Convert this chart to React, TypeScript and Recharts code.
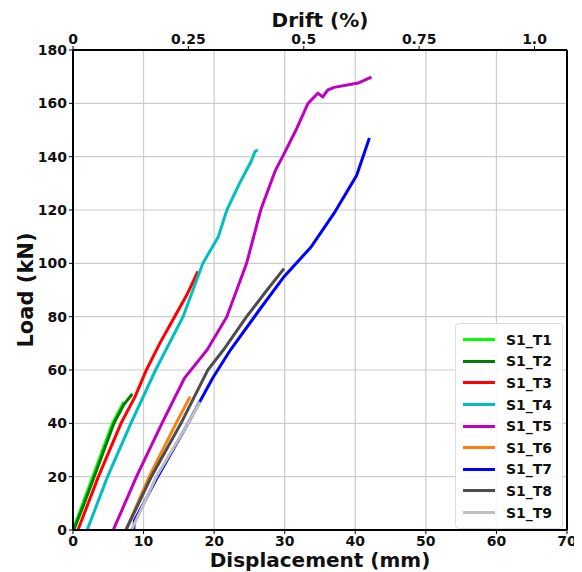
import React from 'react'
import {
  LineChart, Line, XAxis, YAxis, CartesianGrid,
} from 'recharts'

// load-displacement curves, d = displacement (mm), p = load (kN)
const S1_T1 = [
  { d: 0, p: 0 }, { d: 1.4, p: 10 }, { d: 2.8, p: 20 }, { d: 4.2, p: 30 },
  { d: 5.6, p: 40 }, { d: 7.2, p: 48 },
]
const S1_T2 = [
  { d: 0.1, p: 0 }, { d: 1.6, p: 10 }, { d: 3.0, p: 20 }, { d: 4.4, p: 30 },
  { d: 5.8, p: 40 }, { d: 7.2, p: 47 }, { d: 8.4, p: 51 },
]
const S1_T3 = [
  { d: 0.7, p: 0 }, { d: 3.6, p: 20 }, { d: 6.8, p: 40 }, { d: 8.8, p: 50 },
  { d: 10.4, p: 60 }, { d: 12.3, p: 70 }, { d: 14.4, p: 80 }, { d: 16.1, p: 88 },
  { d: 17.0, p: 93 }, { d: 17.7, p: 97 },
]
const S1_T4 = [
  { d: 2.0, p: 0 }, { d: 4.9, p: 20 }, { d: 8.2, p: 40 }, { d: 11.7, p: 60 },
  { d: 15.6, p: 80 }, { d: 18.4, p: 100 }, { d: 20.6, p: 110 }, { d: 21.8, p: 120 },
  { d: 23.6, p: 130 }, { d: 25.2, p: 138 }, { d: 25.8, p: 142 }, { d: 26.2, p: 142.5 },
]
const S1_T5 = [
  { d: 5.7, p: 0 }, { d: 9.0, p: 20 }, { d: 12.6, p: 40 }, { d: 15.8, p: 57 },
  { d: 19.0, p: 67.5 }, { d: 21.8, p: 80 }, { d: 24.6, p: 100 }, { d: 26.6, p: 120 },
  { d: 28.0, p: 130 }, { d: 28.7, p: 135 }, { d: 29.7, p: 140 }, { d: 31.6, p: 150 },
  { d: 33.3, p: 160 }, { d: 34.7, p: 163.8 }, { d: 35.4, p: 162.4 }, { d: 36.1, p: 165 },
  { d: 37.0, p: 166 }, { d: 40.4, p: 167.6 }, { d: 42.3, p: 169.8 },
]
const S1_T6 = [
  { d: 7.5, p: 0 }, { d: 10.8, p: 20 }, { d: 14.6, p: 40 }, { d: 16.6, p: 50 },
]
const S1_T7 = [
  { d: 8.6, p: 0 }, { d: 8.7, p: 3.5 }, { d: 12.0, p: 20 }, { d: 16.3, p: 40 },
  { d: 19.8, p: 57 }, { d: 22.3, p: 67.5 }, { d: 26.4, p: 82.5 }, { d: 29.9, p: 95 },
  { d: 33.7, p: 106 }, { d: 37.0, p: 118.8 }, { d: 40.2, p: 133 }, { d: 42.0, p: 147 },
]
const S1_T8 = [
  { d: 7.5, p: 0 }, { d: 11.1, p: 20 }, { d: 15.3, p: 40 }, { d: 19.1, p: 60 },
  { d: 21.3, p: 67.5 }, { d: 24.6, p: 80 }, { d: 27.5, p: 90 }, { d: 29.9, p: 98 },
]
const S1_T9 = [
  { d: 8.3, p: 0 }, { d: 11.8, p: 20 }, { d: 16.3, p: 40 }, { d: 18.0, p: 48 },
]

const SERIES = [
  { name: 'S1_T1', data: S1_T1, color: '#00ff00' },
  { name: 'S1_T2', data: S1_T2, color: '#008000' },
  { name: 'S1_T3', data: S1_T3, color: '#ff0000' },
  { name: 'S1_T4', data: S1_T4, color: '#00bfbf' },
  { name: 'S1_T5', data: S1_T5, color: '#bf00bf' },
  { name: 'S1_T6', data: S1_T6, color: '#ff7f0e' },
  { name: 'S1_T7', data: S1_T7, color: '#0000ff' },
  { name: 'S1_T8', data: S1_T8, color: '#4d4d4d' },
  { name: 'S1_T9', data: S1_T9, color: '#bfbfbf' },
]

const X_TICKS = [0, 10, 20, 30, 40, 50, 60, 70]
const Y_TICKS = [0, 20, 40, 60, 80, 100, 120, 140, 160, 180]
const DRIFT_TICKS = [0, 0.25, 0.5, 0.75, 1.0]
const DRIFT_LABELS = ['0', '0.25', '0.5', '0.75', '1.0']
const MM_PER_PCT = 65.4
const DRIFT_DATA = DRIFT_TICKS.map(t => ({ drift: t }))

const FONT = '"DejaVu Sans", sans-serif'
const TICK = { fill: '#111', fontSize: 14, fontWeight: 700, fontFamily: FONT }
const AXIS_LINE = { stroke: '#000', strokeWidth: 2 }
const LABEL_STYLE = { fontFamily: FONT, fontSize: 20, fontWeight: 700, fill: '#111' }

function LegendBox() {
  return (
    <div style={{
      position: 'absolute', left: 447, top: 315,
      background: 'rgba(255,255,255,0.85)', border: '1px solid #ddd', borderRadius: 4,
      padding: '5px 10px 5px 7px', fontFamily: FONT, fontWeight: 700, fontSize: 14, color: '#111',
    }}>
      {SERIES.map(s => (
        <div key={s.name} style={{ display: 'flex', alignItems: 'center', height: 21.6 }}>
          <span style={{ display: 'inline-block', width: 32, height: 3, background: s.color, marginRight: 11 }} />
          {s.name}
        </div>
      ))}
    </div>
  )
}

export default function App() {
  return (
    <div style={{ position: 'relative', width: 574, height: 564 }}>
      <LineChart width={574} height={564} margin={{ top: 0, right: 0, bottom: 0, left: 0 }}>
        <CartesianGrid xAxisId="bottom" yAxisId="left" stroke="#cccccc" strokeWidth={1.2} />
        <XAxis
          xAxisId="bottom" dataKey="d" type="number" domain={[0, 70]} ticks={X_TICKS}
          height={42} tick={TICK} axisLine={AXIS_LINE} tickLine={{ stroke: '#000' }} tickSize={4}
          allowDataOverflow
          label={{ value: 'Displacement (mm)', position: 'insideBottom', offset: 5, style: LABEL_STYLE }}
        />
        <XAxis
          xAxisId="top" orientation="top" dataKey="drift" type="number" domain={[0, 70 / MM_PER_PCT]} ticks={DRIFT_TICKS}
          height={42} tick={TICK} axisLine={AXIS_LINE} tickLine={{ stroke: '#000' }} tickSize={4}
          allowDataOverflow tickFormatter={(v: number) => DRIFT_LABELS[DRIFT_TICKS.indexOf(v)] ?? String(v)}
          label={{ value: 'Drift (%)', position: 'insideTop', offset: 5, style: LABEL_STYLE }}
        />
        <YAxis
          yAxisId="left" type="number" domain={[0, 180]} ticks={Y_TICKS} width={65}
          tick={TICK} axisLine={AXIS_LINE} tickLine={{ stroke: '#000' }} tickSize={4}
          allowDataOverflow
          label={{ value: 'Load (kN)', angle: -90, position: 'insideLeft', offset: 18, style: { ...LABEL_STYLE, fontSize: 21, textAnchor: 'middle' } }}
        />
        <YAxis
          yAxisId="right" orientation="right" type="number" domain={[0, 180]} width={15}
          tick={false} tickLine={false} axisLine={AXIS_LINE}
        />
        {/* invisible series so the drift axis gets its scale */}
        <Line
          xAxisId="top" yAxisId="left" data={DRIFT_DATA} dataKey="none"
          stroke="none" dot={false} legendType="none" isAnimationActive={false}
        />
        {SERIES.map(s => (
          <Line
            key={s.name}
            xAxisId="bottom"
            yAxisId="left"
            data={s.data}
            dataKey="p"
            name={s.name}
            type="linear"
            stroke={s.color}
            strokeWidth={3}
            dot={false}
            isAnimationActive={false}
          />
        ))}
      </LineChart>
      <LegendBox />
    </div>
  )
}
